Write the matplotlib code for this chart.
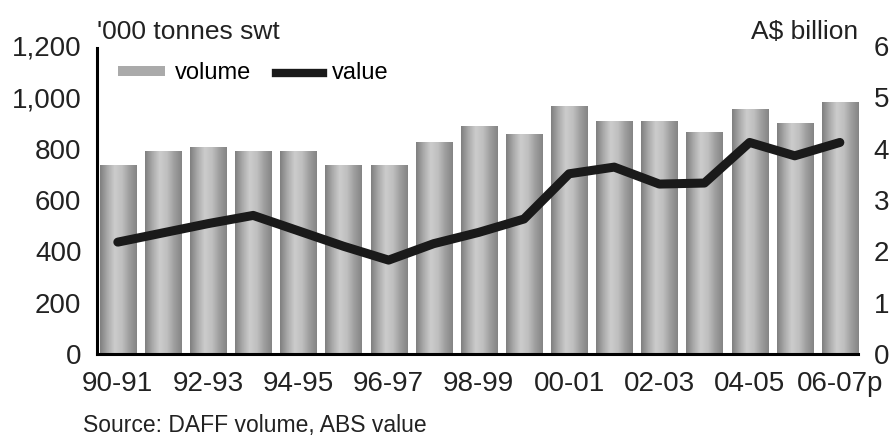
import matplotlib.pyplot as plt
import numpy as np
from matplotlib.colors import LinearSegmentedColormap
from matplotlib.patches import Rectangle
from matplotlib.lines import Line2D

years = ["90-91", "91-92", "92-93", "93-94", "94-95", "95-96", "96-97", "97-98",
         "98-99", "99-00", "00-01", "01-02", "02-03", "03-04", "04-05", "05-06", "06-07p"]
volume = [735, 792, 808, 792, 792, 738, 735, 826, 887, 857, 964, 909, 909, 863, 954, 900, 983]
value = [2.18, 2.36, 2.54, 2.70, 2.40, 2.10, 1.83, 2.15, 2.37, 2.63, 3.51, 3.64, 3.31, 3.33, 4.12, 3.86, 4.12]
tick_labels = ["90-91", "92-93", "94-95", "96-97", "98-99", "00-01", "02-03", "04-05", "06-07p"]

plt.rcParams['font.family'] = ['Liberation Sans', 'DejaVu Sans']

fig = plt.figure(figsize=(8.96, 4.41), dpi=100)
ax = fig.add_axes([0.108, 0.197, 0.850, 0.699])
ax2 = ax.twinx()

x = np.arange(len(years))
w = 0.8
# cylinder-like grey shading for bars
cmap = LinearSegmentedColormap.from_list("cyl", ["#808080", "#aaaaaa", "#cccccc", "#bfbfbf", "#9e9e9e", "#858585"])
grad = np.linspace(0, 1, 64).reshape(1, -1)
for xi, h in zip(x, volume):
    im = ax.imshow(grad, cmap=cmap, aspect="auto", extent=(xi - w/2, xi + w/2, 0, h), zorder=2)
    rect = Rectangle((xi - w/2, 0), w, h, transform=ax.transData, facecolor="none", edgecolor="none")
    ax.add_patch(rect)
    im.set_clip_path(rect)

ax2.plot(x, value, color="#1a1a1a", lw=6.5, solid_capstyle="round", solid_joinstyle="round", zorder=5)

ax.set_xlim(-0.466, 16.41)
ax.set_ylim(0, 1200)
ax2.set_ylim(0, 6)
ax.set_yticks([0, 200, 400, 600, 800, 1000, 1200])
ax.set_yticklabels(["0", "200", "400", "600", "800", "1,000", "1,200"])
ax2.set_yticks(range(7))
ax.set_xticks(x[::2])
ax.set_xticklabels(tick_labels)

for a in (ax, ax2):
    for s in a.spines.values():
        s.set_visible(False)
ax.spines["left"].set_visible(True)
ax.spines["bottom"].set_visible(True)
ax.spines["left"].set_linewidth(2.2)
ax.spines["bottom"].set_linewidth(2.2)
ax.spines["left"].set_bounds(0, 1190)
ax.tick_params(axis="both", length=0, labelsize=20, colors="#222222")
ax.tick_params(axis="y", pad=11)
ax.tick_params(axis="x", pad=12)
ax2.tick_params(axis="y", length=0, labelsize=20, colors="#222222", pad=11)

fig.text(0.108, 0.9, "'000 tonnes swt", fontsize=19, color="#222222", ha="left", va="bottom")
fig.text(0.958, 0.9, "A$ billion", fontsize=19, color="#222222", ha="right", va="bottom")
fig.text(0.093, 0.035, "Source: DAFF volume, ABS value", fontsize=16.5, color="#222222", ha="left", va="center")

handles = [Rectangle((0, 0), 1, 1, facecolor="#aaaaaa", edgecolor="none"),
           Line2D([], [], color="#1a1a1a", lw=6)]
ax.legend(handles, ["volume", "value"], loc="upper left", bbox_to_anchor=(0.0, 1.015), ncol=2,
          frameon=False, fontsize=17, handlelength=2.0, handleheight=0.3, columnspacing=1.05,
          handletextpad=0.4)

fig.savefig("out.png", dpi=100)
